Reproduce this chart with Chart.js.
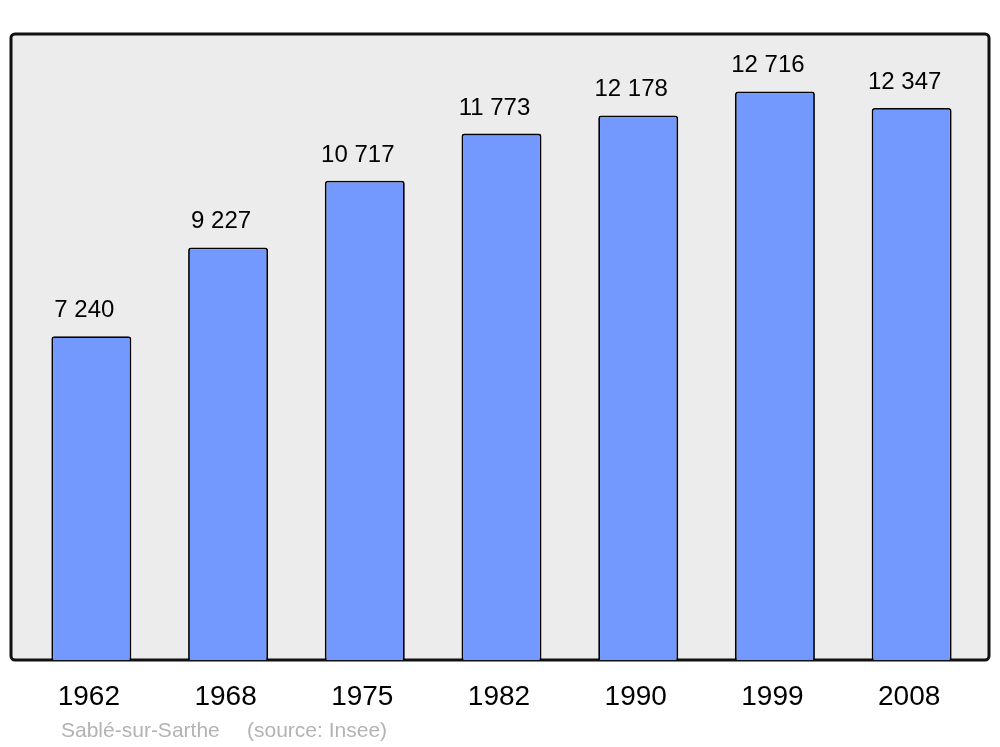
<!DOCTYPE html>
<html>
<head>
<meta charset="utf-8">
<script src="https://cdn.jsdelivr.net/npm/chart.js@4/dist/chart.umd.min.js"></script>
<style>
  html, body { margin: 0; padding: 0; background: #fff; }
  canvas { display: block; }
</style>
</head>
<body>
<canvas id="popChart" width="1000" height="747"></canvas>
<script>
// census years and population of Sablé-sur-Sarthe
const years = ['1962', '1968', '1975', '1982', '1990', '1999', '2008'];
const population = [7240, 9227, 10717, 11773, 12178, 12716, 12347];
const yMax = 14000;

// french style thousands separator
function fmt(n) {
    return String(n).replace(/\B(?=(\d{3})+(?!\d))/g, ' ');
}

// grey panel with dark frame behind the bars
const framePlugin = {
    id: 'frame',
    beforeDatasetsDraw(chart) {
        const { ctx, chartArea } = chart;
        const x = chartArea.left - 12, y = chartArea.top;
        const w = chartArea.right - chartArea.left + 21, h = chartArea.bottom - chartArea.top;
        ctx.save();
        ctx.beginPath();
        ctx.roundRect(x, y, w, h, 4);
        ctx.fillStyle = '#ececec';
        ctx.fill();
        ctx.lineWidth = 3;
        ctx.strokeStyle = '#111';
        ctx.stroke();
        ctx.restore();
    }
};

// value labels, year labels and source line
const labelsPlugin = {
    id: 'labels',
    afterDatasetsDraw(chart) {
        const { ctx, chartArea } = chart;
        const xScale = chart.scales.x;
        const meta = chart.getDatasetMeta(0);
        ctx.save();
        ctx.fillStyle = '#000';
        ctx.textAlign = 'center';
        ctx.textBaseline = 'alphabetic';
        ctx.font = '24px "Liberation Sans", Arial, sans-serif';
        meta.data.forEach((bar, i) => {
            ctx.fillText(fmt(population[i]), bar.x - 7, bar.y - 19);
        });
        ctx.font = '28px "Liberation Sans", Arial, sans-serif';
        years.forEach((yr, i) => {
            ctx.fillText(yr, xScale.getPixelForValue(i) - 2.5, chartArea.bottom + 45);
        });
        ctx.textAlign = 'left';
        ctx.fillStyle = '#b3b3b3';
        ctx.font = '21px "Liberation Sans", Arial, sans-serif';
        ctx.fillText('Sablé-sur-Sarthe', 61, chartArea.bottom + 77);
        ctx.fillText('(source: Insee)', 247, chartArea.bottom + 77);
        ctx.restore();
    }
};

const ctx = document.getElementById('popChart').getContext('2d');
const chart = new Chart(ctx, {
    type: 'bar',
    data: {
        labels: years,
        datasets: [{
            data: population,
            backgroundColor: '#7399ff',
            borderColor: '#000',
            borderWidth: 1.8,
            borderRadius: 3,
            barPercentage: 0.585,
            categoryPercentage: 1
        }]
    },
    options: {
        responsive: false,
        animation: false,
        layout: {
            padding: { left: 23, right: 20, top: 34, bottom: 87 }
        },
        plugins: {
            legend: { display: false },
            tooltip: { enabled: false }
        },
        scales: {
            x: { display: false },
            y: { display: false, min: 0, max: yMax }
        }
    },
    plugins: [framePlugin, labelsPlugin]
});
</script>
</body>
</html>
